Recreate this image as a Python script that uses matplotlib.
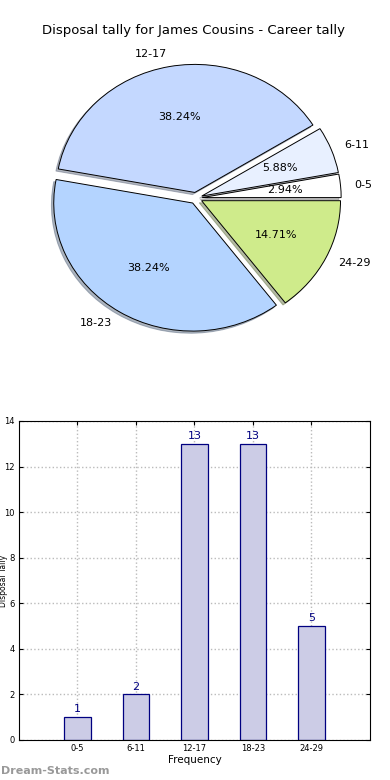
import matplotlib
matplotlib.use('Agg')
import matplotlib.pyplot as plt

groups = ['0-5', '6-11', '12-17', '18-23', '24-29']
tally = [1, 2, 13, 13, 5]
pie_colors = ['#ffffff', '#e8f0ff', '#c4d8ff', '#b4d4ff', '#cfeb8b']

fig = plt.figure(figsize=(3.9, 7.8), dpi=100)

# pie at the top
ax1 = fig.add_axes([0.075, 0.549, 0.855, 0.394])
wedges, texts, autotexts = ax1.pie(tally, labels=groups, colors=pie_colors,
                                   explode=[0.045] * 5,
                                   shadow={'ox': -0.012, 'oy': -0.012, 'shade': 0.5},
                                   autopct='%.2f%%', startangle=0,
                                   wedgeprops={'edgecolor': 'black', 'linewidth': 0.7},
                                   textprops={'fontsize': 8})
ax1.set_aspect('auto')
ax1.set_xlim(-1.2, 1.2)
ax1.set_ylim(-1.2, 1.2)
ax1.axis('off')
fig.text(0.497, 0.961, 'Disposal tally for James Cousins - Career tally',
         ha='center', va='center', fontsize=9.5)

# bar chart below
ax2 = fig.add_axes([0.0487, 0.0513, 0.9, 0.409])
xs = range(len(groups))
ax2.bar(xs, tally, width=0.45, color='#ccccE6', edgecolor='#000080', linewidth=0.9, zorder=2)
for x, v in zip(xs, tally):
    ax2.text(x, v + 0.12, str(v), ha='center', va='bottom', color='#000080', fontsize=8)
ax2.set_xlim(-1, 5)
ax2.set_ylim(0, 14)
ax2.set_xticks(list(xs))
ax2.set_xticklabels(groups)
ax2.set_yticks(range(0, 15, 2))
ax2.tick_params(labelsize=6, direction='in', top=True, right=True, length=3, pad=3)
ax2.grid(True, linestyle=':', color='#bbbbbb', linewidth=1.0, zorder=0)
ax2.set_axisbelow(True)
ax2.set_xlabel('Frequency', fontsize=7.5, labelpad=1)
ax2.set_ylabel('Disposal Tally', fontsize=5.5, labelpad=2)
ax2.yaxis.set_label_coords(-0.032, 0.5)

fig.text(0.002, 0.012, 'Dream-Stats.com', fontsize=8, color='#999999',
         fontweight='bold', ha='left', va='center')

fig.savefig('out.png', dpi=100)
